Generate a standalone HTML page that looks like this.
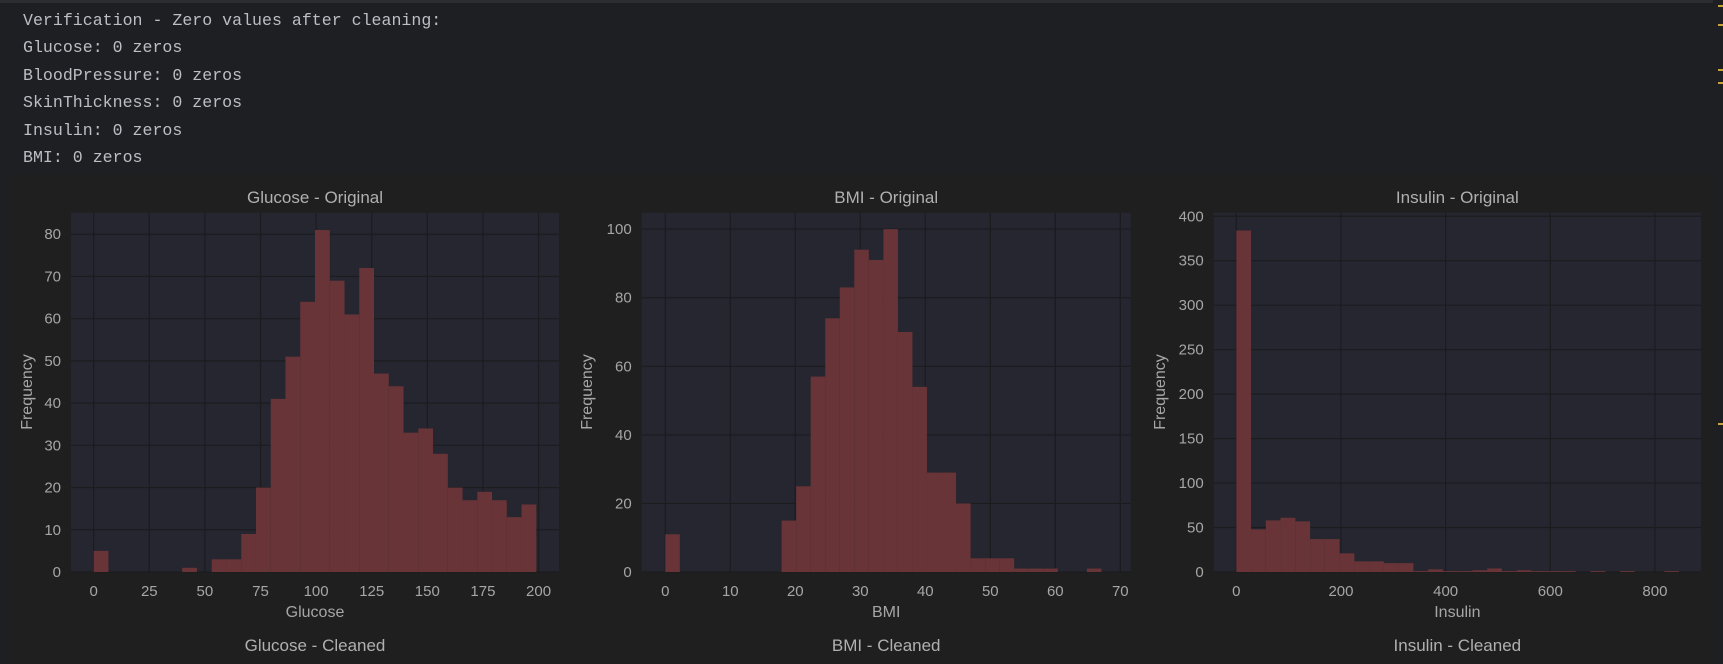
<!DOCTYPE html>
<html><head><meta charset="utf-8">
<style>
html,body{margin:0;padding:0;width:1723px;height:664px;overflow:hidden;background:#1e1f22;}
#console{position:absolute;left:0;top:0;width:1713px;height:175px;}
.line{position:absolute;left:23px;font-family:"Liberation Mono",monospace;font-size:16.6px;color:#bcbec4;white-space:pre;}
#topbar{position:absolute;left:0;top:0;width:1713px;height:3px;background:#2b2d30;}
#scroll{position:absolute;left:1713px;top:0;width:10px;height:664px;background:#1e1f22;}
.mark{position:absolute;left:1718px;width:5px;height:2px;background:#c9a33a;}
svg{position:absolute;left:0;top:0;}
</style></head>
<body>
<div id="topbar"></div>
<div id="console">
<div class="line" style="top:11px">Verification - Zero values after cleaning:</div>
<div class="line" style="top:38px">Glucose: 0 zeros</div>
<div class="line" style="top:66px">BloodPressure: 0 zeros</div>
<div class="line" style="top:93px">SkinThickness: 0 zeros</div>
<div class="line" style="top:121px">Insulin: 0 zeros</div>
<div class="line" style="top:148px">BMI: 0 zeros</div>
</div>
<div id="scroll"></div>
<div class="mark" style="top:5px"></div>
<div class="mark" style="top:24px"></div>
<div class="mark" style="top:69px"></div>
<div class="mark" style="top:82px"></div>
<div class="mark" style="top:423px"></div>
<svg id="fig" width="1723" height="664" xmlns="http://www.w3.org/2000/svg"></svg>
<script>
const glucoseCounts=[5,0,0,0,0,0,1,0,3,3,9,20,41,51,64,81,69,61,72,47,44,33,34,28,20,17,19,17,13,16];
const glucoseXTicks=[0,25,50,75,100,125,150,175,200];
const glucoseYTicks=[0,10,20,30,40,50,60,70,80];
const bmiCounts=[11,0,0,0,0,0,0,0,15,25,57,74,83,94,91,100,70,54,29,29,20,4,4,4,1,1,1,0,0,1];
const bmiXTicks=[0,10,20,30,40,50,60,70];
const bmiYTicks=[0,20,40,60,80,100];
const insulinCounts=[384,48,58,61,57,37,37,21,12,12,10,10,1,3,1,1,2,4,1,2,1,1,1,0,1,0,1,0,0,1];
const insulinXTicks=[0,200,400,600,800];
const insulinYTicks=[0,50,100,150,200,250,300,350,400];

const NS="http://www.w3.org/2000/svg";
const svg=document.getElementById('fig');
function mk(tag,attrs,parent){const e=document.createElementNS(NS,tag);for(const k in attrs)e.setAttribute(k,attrs[k]);(parent||svg).appendChild(e);return e;}

const figbg=mk('rect',{x:7,y:175,width:1706,height:489,fill:'#1f1f1f'});



function panel(cfg){
  const g=mk('g',{});
  
  
  const L=cfg.left,R=cfg.right,T=212.7,B=572;
  const sx=v=>L+(v-cfg.xmin)/(cfg.xmax-cfg.xmin)*(R-L);
  const sy=v=>B-v/cfg.ymax*(B-T);
  const bg=mk('rect',{x:L,y:T,width:R-L,height:B-T,fill:'#252630'},g);
  
  
  cfg.yt.forEach(v=>{
    const ln=mk('line',{x1:L,x2:R,y1:sy(v),y2:sy(v),stroke:'#1c1c1f','stroke-width':1.2},g);
    
    
    const t=mk('text',{x:L-10,y:sy(v)+5,'text-anchor':'end','font-family':'Liberation Sans, sans-serif','font-size':15,fill:'#a6a6a6'},g);
    t.textContent=v;
    
    
  });
  cfg.xt.forEach(v=>{
    const ln=mk('line',{x1:sx(v),x2:sx(v),y1:T,y2:B,stroke:'#1c1c1f','stroke-width':1.2},g);
    
    
    const t=mk('text',{x:sx(v),y:596,'text-anchor':'middle','font-family':'Liberation Sans, sans-serif','font-size':15,fill:'#a6a6a6'},g);
    t.textContent=v;
    
    
  });
  const n=cfg.counts.length,w=(cfg.binMax-cfg.binMin)/n;
  cfg.counts.forEach((c,i)=>{
    if(c<=0)return;
    const x0=sx(cfg.binMin+i*w),x1=sx(cfg.binMin+(i+1)*w);
    const r=mk('rect',{x:x0,y:sy(c),width:x1-x0,height:B-sy(c),fill:'#683437'},g);
    
    
  });
  const cx=(L+R)/2;
  const title=mk('text',{x:cx,y:203,'text-anchor':'middle','font-family':'Liberation Sans, sans-serif','font-size':17,fill:'#b0b0b0'},g);
  title.textContent=cfg.title;
  
  
  const xl=mk('text',{x:cx,y:617,'text-anchor':'middle','font-family':'Liberation Sans, sans-serif','font-size':16,fill:'#a6a6a6'},g);
  xl.textContent=cfg.xlabel;
  
  
  const yl=mk('text',{x:0,y:0,'text-anchor':'middle','font-family':'Liberation Sans, sans-serif','font-size':16,fill:'#a6a6a6',transform:'translate('+(cfg.ylabX+5)+',392) rotate(-90)'},g);
  yl.textContent='Frequency';
  
  
  const ct=mk('text',{x:cx,y:651,'text-anchor':'middle','font-family':'Liberation Sans, sans-serif','font-size':17,fill:'#b0b0b0'},g);
  ct.textContent=cfg.cleaned;
  
  
}
panel({name:'glucose',left:71,right:559,xmin:-10.2,xmax:209.2,ymax:85.1,binMin:0,binMax:199,counts:glucoseCounts,xt:glucoseXTicks,yt:glucoseYTicks,title:'Glucose - Original',cleaned:'Glucose - Cleaned',xlabel:'Glucose',ylabX:27});
panel({name:'bmi',left:641.7,right:1130.7,xmin:-3.63,xmax:71.6,ymax:104.8,binMin:0,binMax:67.1,counts:bmiCounts,xt:bmiXTicks,yt:bmiYTicks,title:'BMI - Original',cleaned:'BMI - Cleaned',xlabel:'BMI',ylabX:587});
panel({name:'insulin',left:1213.7,right:1701,xmin:-43.2,xmax:888,ymax:404,binMin:0,binMax:846,counts:insulinCounts,xt:insulinXTicks,yt:insulinYTicks,title:'Insulin - Original',cleaned:'Insulin - Cleaned',xlabel:'Insulin',ylabX:1160});
</script>
</body></html>
